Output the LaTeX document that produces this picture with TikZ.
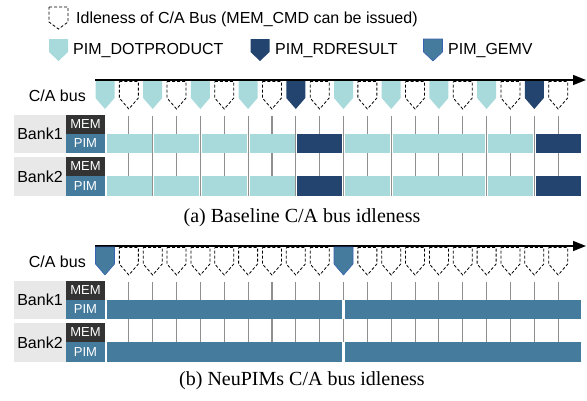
\documentclass[tikz,border=0pt]{standalone}
\usepackage{fontspec}
\setmainfont{Liberation Serif}
\setsansfont{Liberation Sans}
\usetikzlibrary{arrows.meta}
\definecolor{cLight}{HTML}{A8DADC}
\definecolor{cDark}{HTML}{23446F}
\definecolor{cGemv}{HTML}{457B9D}
\definecolor{cMem}{HTML}{333333}
\definecolor{cBank}{HTML}{E8E8E8}
\definecolor{cGrid}{HTML}{8F8F8F}
\newcommand\pentshape[5]{\path[#1] ({#2-9.5},#3) -- ({#2+9.5},#3) -- ({#2+9.5},#4) -- ({#2},#5) -- ({#2-9.5},#4) -- cycle;}
\newcommand\pimbar[3]{%
  \fill[#1] ({105+23.85*#2+1.6},134) rectangle ({105+23.85*#3-1.2},153);
  \fill[#1] ({105+23.85*#2+1.6},176) rectangle ({105+23.85*#3-1.2},196);}
\newcommand\panelbase[1]{%
  \coordinate (#1s) at (95,80);
  \coordinate (#1e) at (586,80);
  \draw[bus] (#1s) -- (#1e);
  \node[sans, anchor=east] (#1ca) at (86,96) {C/A bus};
  \fill[cBank] (14,115) rectangle (66,153);
  \fill[cBank] (14,157) rectangle (66,196);
  \fill[cMem] (66,115) rectangle (105,134);
  \fill[cGemv] (66,134) rectangle (105,153);
  \fill[cMem] (66,157) rectangle (105,176);
  \fill[cGemv] (66,176) rectangle (105,196);
  \node[sans] (#1b1) at (40,134) {Bank1};
  \node[sans] (#1b2) at (40,176.5) {Bank2};
  \node[small] (#1m1) at (85.5,124.5) {MEM};
  \node[small] (#1p1) at (85.5,143.5) {PIM};
  \node[small] (#1m2) at (85.5,166.5) {MEM};
  \node[small] (#1p2) at (85.5,186) {PIM};
}
\begin{document}
\begin{tikzpicture}[x=1pt,y=-1pt,
  sans/.style={font=\sffamily\fontsize{16}{18}\selectfont, inner sep=0pt},
  small/.style={font=\sffamily\fontsize{13}{14}\selectfont, text=white, inner sep=0pt},
  captext/.style={font=\fontsize{20}{22}\selectfont, inner sep=0pt},
  pD/.style={draw=black, line width=0.8pt, dash pattern=on 3pt off 2pt},
  pL/.style={fill=cLight},
  pK/.style={fill=cDark},
  pG/.style={fill=cGemv, draw=cGemv!80!blue, line width=0.6pt},
  grid/.style={draw=cGrid, line width=1.1pt},
  bus/.style={line width=1.4pt, -{Triangle[length=13pt,width=10pt]}}]
\useasboundingbox (0,0) rectangle (587,400);
% legend
\pentshape{pD}{58.5}{7}{22}{29}
\node[sans, anchor=base west] (lg1) at (76,23) {Idleness of C/A Bus (MEM\_CMD can be issued)};
\pentshape{pL}{58.5}{39}{52}{61}
\node[sans, anchor=base west] (lg2) at (73,54) {PIM\_DOTPRODUCT};
\pentshape{pK}{260}{39}{52}{61}
\node[sans, anchor=base west] (lg3) at (275,54) {PIM\_RDRESULT};
\pentshape{pG}{433}{39}{52}{61}
\node[sans, anchor=base west] (lg4) at (448,54) {PIM\_GEMV};
% top panel
\panelbase{a}
\foreach \k in {2,4,...,18} {\draw[grid] ({105+23.85*\k},116) -- ({105+23.85*\k},196);}
\foreach \k in {1,3,...,19} {
  \draw[grid] ({105+23.85*\k},116) -- ({105+23.85*\k},134);
  \draw[grid] ({105+23.85*\k},153) -- ({105+23.85*\k},176);}
\pimbar{cLight}{0}{2}
\pimbar{cLight}{2}{4}
\pimbar{cLight}{4}{6}
\pimbar{cLight}{6}{8}
\pimbar{cDark}{8}{10}
\pimbar{cLight}{10}{12}
\pimbar{cLight}{12}{16}
\pimbar{cLight}{16}{18}
\pimbar{cDark}{18}{20}
\foreach \k in {0,2,4,6,10,12,14,16} {\pentshape{pL}{105+23.85*\k}{81}{98}{109}}
\foreach \k in {8,18} {\pentshape{pK}{105+23.85*\k}{81}{98}{109}}
\foreach \k in {1,3,...,19} {\pentshape{pD}{105+23.85*\k}{81.5}{98}{109}}
\node[captext, anchor=base] (capa) at (302,222.7) {(a) Baseline C/A bus idleness};
% bottom panel
\begin{scope}[yshift=-166pt]
\panelbase{b}
\foreach \k in {1,...,19} {
  \draw[grid] ({105+23.85*\k},116) -- ({105+23.85*\k},134);
  \draw[grid] ({105+23.85*\k},153) -- ({105+23.85*\k},176);}
\pimbar{cGemv}{0}{10}
\pimbar{cGemv}{10}{20}
\foreach \k in {0,10} {\pentshape{pG}{105+23.85*\k}{81}{98}{109}}
\foreach \k in {1,...,9} {\pentshape{pD}{105+23.85*\k}{81.5}{98}{109}}
\foreach \k in {11,...,19} {\pentshape{pD}{105+23.85*\k}{81.5}{98}{109}}
\end{scope}
\node[captext, anchor=base] (capb) at (302,385) {(b) NeuPIMs C/A bus idleness};
\end{tikzpicture}
\end{document}
